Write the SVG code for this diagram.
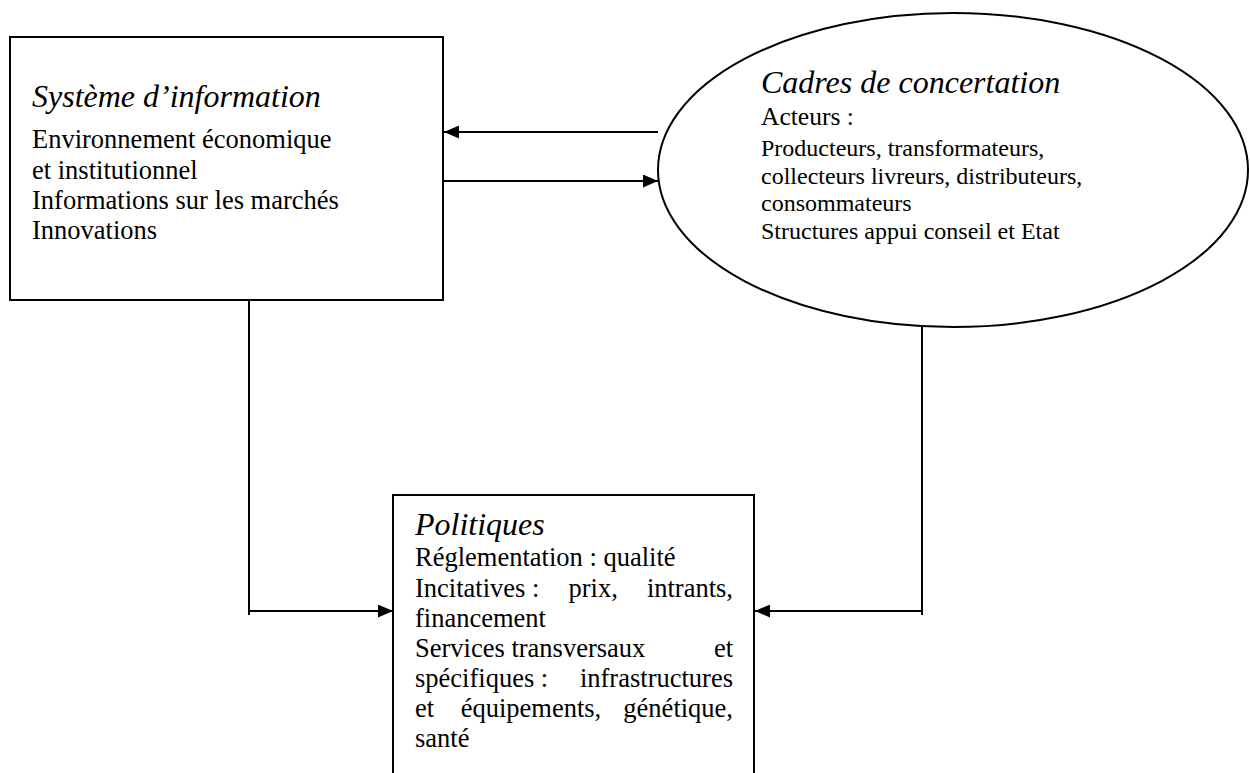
<svg xmlns="http://www.w3.org/2000/svg" width="1250" height="773" viewBox="0 0 1250 773">
<style>
.box{fill:#fff;stroke:#000;stroke-width:2}
.ell{fill:#fff;stroke:#000;stroke-width:2}
.con{fill:none;stroke:#000;stroke-width:2}
.t{font-family:"Liberation Serif","Times New Roman",serif;fill:#000}
.title{font-style:italic;font-size:32px}
.body{font-size:26.5px}
.small{font-size:24px}
</style>
<defs>
<marker id="arr" markerUnits="userSpaceOnUse" markerWidth="15" markerHeight="13" refX="15" refY="6.5" orient="auto">
<path d="M0,0 L15,6.5 L0,13 z" fill="#000"/>
</marker>
</defs>
<rect width="1250" height="773" fill="#fff"/>
<g id="connectors">
<line class="con" x1="658" y1="132" x2="444" y2="132" marker-end="url(#arr)"/>
<line class="con" x1="443" y1="181" x2="658" y2="181" marker-end="url(#arr)"/>
<polyline class="con" points="249,300 249,615"/>
<line class="con" x1="249" y1="611" x2="393" y2="611" marker-end="url(#arr)"/>
<polyline class="con" points="922,326 922,615"/>
<line class="con" x1="922" y1="611" x2="755" y2="611" marker-end="url(#arr)"/>
</g>
<g id="systeme">
<rect class="box" x="10" y="37" width="433" height="263"/>
<text class="t title" x="32" y="107">Système d’information</text>
<text class="t body" x="32" y="148">Environnement économique</text>
<text class="t body" x="32" y="179">et institutionnel</text>
<text class="t body" x="32" y="209">Informations sur les marchés</text>
<text class="t body" x="32" y="239">Innovations</text>
</g>
<g id="cadres">
<ellipse class="ell" cx="953" cy="170" rx="295" ry="157"/>
<text class="t title" x="761" y="93">Cadres de concertation</text>
<text class="t" style="font-size:25.5px" x="761" y="125">Acteurs :</text>
<text class="t small" x="761" y="156">Producteurs, transformateurs,</text>
<text class="t small" x="761" y="183.5">collecteurs livreurs, distributeurs,</text>
<text class="t small" x="761" y="211">consommateurs</text>
<text class="t small" x="761" y="238.5">Structures appui conseil et Etat</text>
</g>
<g id="politiques">
<rect class="box" x="393" y="495" width="361" height="300"/>
<text class="t title" x="415" y="535">Politiques</text>
<text class="t body" x="415" y="566">Réglementation : qualité</text>
<text class="t body" y="597"><tspan x="415">Incitatives :</tspan><tspan x="568.5">prix,</tspan><tspan x="733" text-anchor="end">intrants,</tspan></text>
<text class="t body" x="415" y="627">financement</text>
<text class="t body" y="657"><tspan x="415">Services transversaux</tspan><tspan x="733" text-anchor="end">et</tspan></text>
<text class="t body" y="687"><tspan x="415">spécifiques :</tspan><tspan x="733" text-anchor="end">infrastructures</tspan></text>
<text class="t body" y="717"><tspan x="415">et</tspan><tspan x="460.7">équipements,</tspan><tspan x="733" text-anchor="end">génétique,</tspan></text>
<text class="t body" x="415" y="747">santé</text>
</g>
</svg>
